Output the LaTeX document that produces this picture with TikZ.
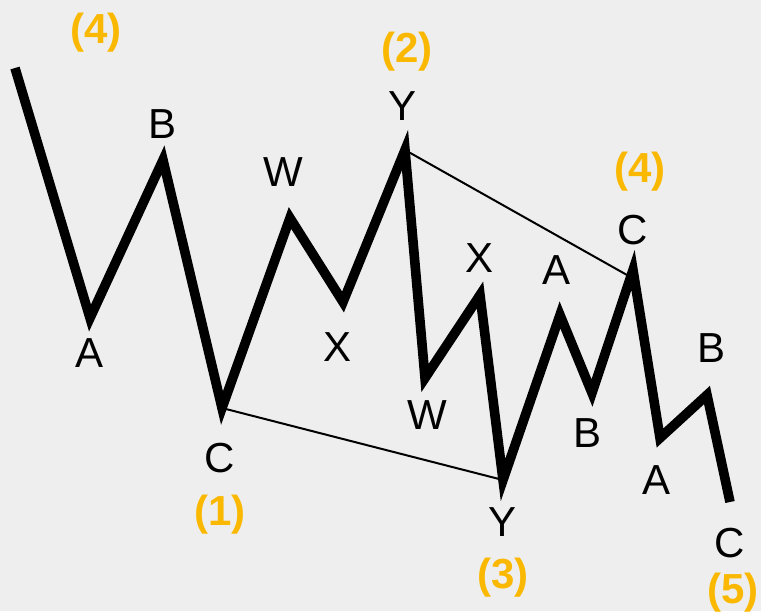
\documentclass[tikz,border=0pt]{standalone}
\usepackage{fontspec}
\setmainfont{Liberation Sans}
\definecolor{bgray}{HTML}{EEEEEE}
\definecolor{wavegold}{HTML}{FBB800}
\tikzset{
  wave/.style={line width=4.8pt,line join=miter,miter limit=20},
  channel/.style={line width=1pt},
  lbl/.style={font=\fontsize{21}{23}\selectfont,inner sep=0pt},
  deg/.style={font=\bfseries\fontsize{21}{23}\selectfont,text=wavegold,inner sep=0pt}
}
\begin{document}
\begin{tikzpicture}[x=0.5pt,y=-0.5pt]
\fill[bgray] (0,0) rectangle (761,611);
\useasboundingbox (0,0) rectangle (761,611);
% wave vertices
\coordinate (s) at (15,68);
\coordinate (a1) at (90,318);
\coordinate (b1) at (163,160);
\coordinate (c1) at (222,408);
\coordinate (w1) at (290,218);
\coordinate (x1) at (343,302);
\coordinate (y1) at (405,150);
\coordinate (w2) at (425,378);
\coordinate (x2) at (480,295);
\coordinate (y2) at (503,480);
\coordinate (a2) at (560,315);
\coordinate (b2) at (592,393);
\coordinate (c2) at (633,270);
\coordinate (a3) at (660,438);
\coordinate (b3) at (707,395);
\coordinate (c3) at (730,502);
\coordinate (e1) at (627,275);
% channel lines
\draw[channel] (y1)--(e1);
\draw[channel] (c1)--(y2);
\draw[wave] (s)--(a1)--(b1)--(c1)--(w1)--(x1)--(y1)--(w2)--(x2)--(y2)--(a2)--(b2)--(c2)--(a3)--(b3)--(c3);
% letters
\node[lbl] (la1) at (90,353) {A};
\node[lbl] (lb1) at (163,124) {B};
\node[lbl] (lc1) at (220,458) {C};
\node[lbl] (lw1) at (283,172) {W};
\node[lbl] (lx1) at (338,347) {X};
\node[lbl] (ly1) at (403,106) {Y};
\node[lbl] (lw2) at (427,415) {W};
\node[lbl] (lx2) at (480,258) {X};
\node[lbl] (ly2) at (503,522) {Y};
\node[lbl] (la2) at (557,270) {A};
\node[lbl] (lb2) at (588,433) {B};
\node[lbl] (lc2) at (633,230) {C};
\node[lbl] (la3) at (657,480) {A};
\node[lbl] (lb3) at (712,348) {B};
\node[lbl] (lc3) at (730,543) {C};
% degree marks
\node[deg] (d4a) at (96,33) {(4)};
\node[deg] (d1) at (220,515) {(1)};
\node[deg] (d2) at (407,52) {(2)};
\node[deg] (d3) at (503,578) {(3)};
\node[deg] (d4b) at (640,172) {(4)};
\node[deg] (d5) at (733,593) {(5)};
\end{tikzpicture}
\end{document}
